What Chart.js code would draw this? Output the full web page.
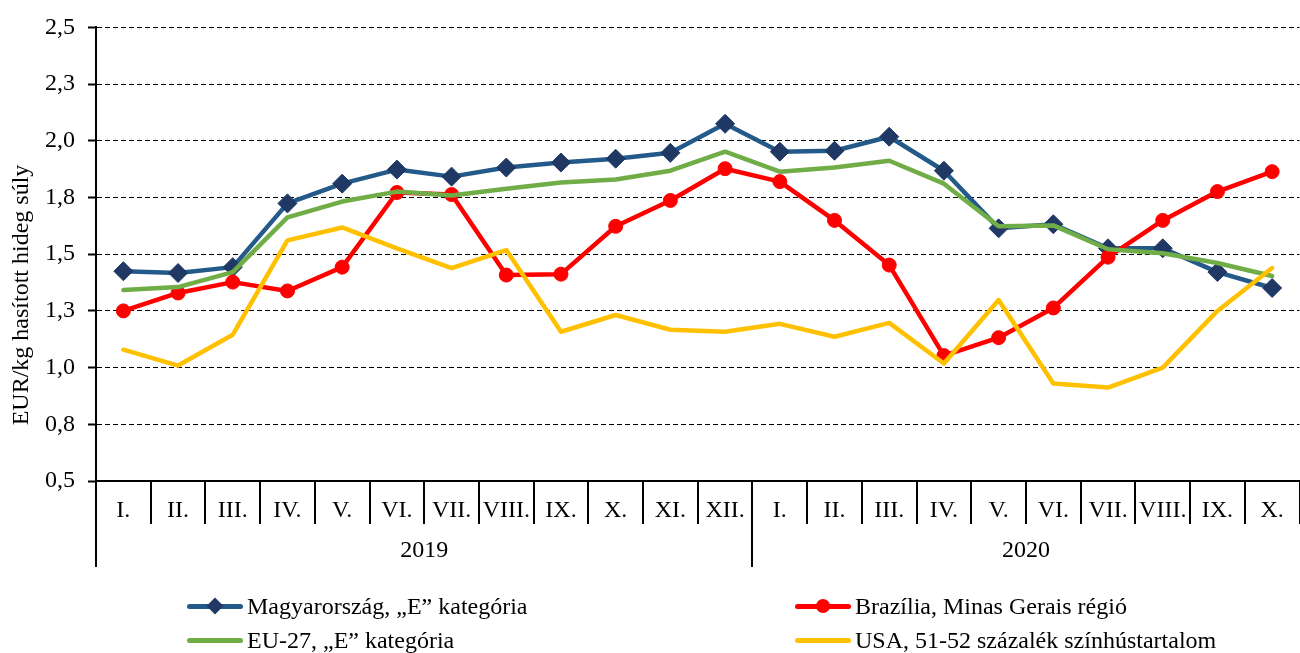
<!DOCTYPE html>
<html>
<head>
<meta charset="utf-8">
<script src="https://cdn.jsdelivr.net/npm/chart.js@4.4.1/dist/chart.umd.min.js"></script>
<style>
  html, body { margin: 0; padding: 0; background: #fff; overflow: hidden; }
  #wrap { position: relative; width: 1310px; height: 653px; }
  #c { position: absolute; left: 0; top: 0; }
  #legend { position: absolute; left: 0; top: 0; width: 1300px; height: 653px; pointer-events: none;
            font-family: 'Liberation Serif', 'Times New Roman', serif; font-size: 24px; color: #000; }
  .li { position: absolute; height: 30px; display: flex; align-items: center; white-space: nowrap; }
  .sw { position: relative; width: 56px; height: 30px; margin-right: 4px; }
  .sw .ln { position: absolute; left: 0; right: 0; top: 12.5px; height: 5px; border-radius: 3px; }
  .sw .mk { position: absolute; left: 50%; top: 50%; }
</style>
</head>
<body>
<div id="wrap">
  <canvas id="c" width="1310" height="653"></canvas>
  <div id="legend"></div>
</div>
<script>
// ---- data ----
const monthLabels = ['I.','II.','III.','IV.','V.','VI.','VII.','VIII.','IX.','X.','XI.','XII.',
                     'I.','II.','III.','IV.','V.','VI.','VII.','VIII.','IX.','X.'];
const years = ['2019', '2020'];
const monthsPerYear = [12, 10];
const yTickLabels = ['0,5','0,8','1,0','1,3','1,5','1,8','2,0','2,3','2,5'];
const yAxisTitle = 'EUR/kg hasított hideg súly';

const seriesNames = ['Magyarország, „E” kategória', 'Brazília, Minas Gerais régió',
                     'EU-27, „E” kategória', 'USA, 51-52 százalék színhústartalom'];
const hungary = [1.425,1.417,1.443,1.724,1.811,1.873,1.842,1.882,1.904,1.921,1.947,2.075,
                 1.952,1.956,2.018,1.868,1.614,1.632,1.526,1.526,1.421,1.351];
const brazil  = [1.250,1.329,1.377,1.338,1.443,1.772,1.763,1.408,1.412,1.623,1.737,1.877,
                 1.820,1.649,1.452,1.053,1.132,1.263,1.487,1.649,1.776,1.864];
const eu27    = [1.342,1.355,1.421,1.662,1.732,1.776,1.759,1.789,1.816,1.829,1.868,1.952,
                 1.864,1.882,1.912,1.811,1.623,1.627,1.522,1.504,1.461,1.404];
const usa     = [1.079,1.009,1.145,1.561,1.618,1.526,1.439,1.518,1.158,1.232,1.167,1.158,
                 1.193,1.136,1.197,1.018,1.298,0.930,0.912,1.000,1.250,1.439];

// ---- styles ----
const FONT = "'Liberation Serif', 'Times New Roman', serif";
Chart.defaults.font.family = FONT;
Chart.defaults.color = '#000';

const yearPlugin = {
  id: 'yearPlugin',
  afterDraw(chart) {
    const xs = chart.scales.x;
    const ctx = chart.ctx;
    const half = (xs.getPixelForValue(1) - xs.getPixelForValue(0)) / 2;
    const top = chart.chartArea.bottom;
    ctx.save();
    ctx.strokeStyle = '#000';
    ctx.lineWidth = 2;
    ctx.fillStyle = '#000';
    ctx.font = '24px ' + FONT;
    ctx.textAlign = 'center';
    ctx.textBaseline = 'middle';
    let start = 0;
    years.forEach((yr, i) => {
      const end = start + monthsPerYear[i] - 1;
      const x0 = xs.getPixelForValue(start) - half;
      const x1 = xs.getPixelForValue(end) + half;
      ctx.beginPath();
      ctx.moveTo(Math.round(x0), top);
      ctx.lineTo(Math.round(x0), top + 86);
      ctx.stroke();
      ctx.fillText(yr, (x0 + x1) / 2, top + 70);
      start = end + 1;
    });
    // y-axis title (placed as in the original, slightly below the axis centre)
    const ys = chart.scales.y;
    ctx.translate(22, ys.getPixelForValue(1.32));
    ctx.rotate(-Math.PI / 2);
    ctx.fillText(yAxisTitle, 0, 0);
    ctx.restore();
  }
};

const ds = (label, data, color, extra) => Object.assign({
  label, data, borderColor: color, backgroundColor: color,
  borderWidth: 4.5, tension: 0, fill: false,
  borderJoinStyle: 'round', borderCapStyle: 'round',
  pointRadius: 0, pointHoverRadius: 0
}, extra || {});

const chart = new Chart(document.getElementById('c'), {
  type: 'line',
  data: {
    labels: monthLabels,
    datasets: [
      ds(seriesNames[0], hungary, '#245A8A', { order: 4, pointStyle: 'rectRot', pointRadius: 9.5,
         pointBackgroundColor: '#1F3864', pointBorderColor: '#1F3864', pointBorderWidth: 1 }),
      ds(seriesNames[1], brazil, '#FF0000', { order: 3, pointStyle: 'circle', pointRadius: 7,
         pointBackgroundColor: '#FF0000', pointBorderColor: '#FF0000', pointBorderWidth: 1 }),
      ds(seriesNames[2], eu27, '#70AD47', { order: 2 }),
      ds(seriesNames[3], usa, '#FFC000', { order: 1 })
    ]
  },
  options: {
    responsive: false,
    animation: false,
    devicePixelRatio: 1,
    layout: { padding: { top: 23, right: 2, left: 0, bottom: 0 } },
    plugins: { legend: { display: false }, tooltip: { enabled: false } },
    scales: {
      x: {
        type: 'category',
        offset: true,
        grid: { offset: true, drawOnChartArea: false, drawTicks: true, tickLength: 43,
                color: '#000', lineWidth: 2 },
        border: { display: true, color: '#000', width: 2 },
        ticks: { font: { size: 24 }, color: '#000', padding: -28, maxRotation: 0, autoSkip: false },
        afterFit(s) { s.height = 172; }
      },
      y: {
        min: 0.5, max: 2.5,
        ticks: { stepSize: 0.25, font: { size: 24 }, color: '#000', padding: 13,
                 callback: (v, i) => yTickLabels[i] },
        grid: { color: '#000', lineWidth: 1, drawTicks: true, tickLength: 8, tickColor: '#000',
                tickWidth: 2 },
        border: { display: true, color: '#000', width: 2, dash: [5, 3] },
        title: { display: false },
        afterFit(s) { s.width = 96; }
      }
    }
  },
  plugins: [yearPlugin]
});

// ---- HTML legend built from datasets ----
(function buildLegend() {
  const legend = document.getElementById('legend');
  const pos = [[187, 591], [795, 591], [187, 625], [795, 625]];
  chart.data.datasets.forEach((d, i) => {
    const item = document.createElement('div');
    item.className = 'li';
    item.style.left = pos[i][0] + 'px';
    item.style.top = pos[i][1] + 'px';
    const sw = document.createElement('div');
    sw.className = 'sw';
    const ln = document.createElement('div');
    ln.className = 'ln';
    ln.style.background = d.borderColor;
    sw.appendChild(ln);
    if (d.pointStyle === 'rectRot') {
      const mk = document.createElement('div');
      mk.className = 'mk';
      mk.style.width = '12px'; mk.style.height = '12px';
      mk.style.marginLeft = '-6px'; mk.style.marginTop = '-6px';
      mk.style.background = d.pointBackgroundColor;
      mk.style.transform = 'rotate(45deg)';
      sw.appendChild(mk);
    } else if (d.pointStyle === 'circle') {
      const mk = document.createElement('div');
      mk.className = 'mk';
      mk.style.width = '14px'; mk.style.height = '14px';
      mk.style.marginLeft = '-7px'; mk.style.marginTop = '-7px';
      mk.style.borderRadius = '50%';
      mk.style.background = d.pointBackgroundColor;
      sw.appendChild(mk);
    }
    const tx = document.createElement('span');
    tx.textContent = d.label;
    item.appendChild(sw);
    item.appendChild(tx);
    legend.appendChild(item);
  });
})();
</script>
</body>
</html>
